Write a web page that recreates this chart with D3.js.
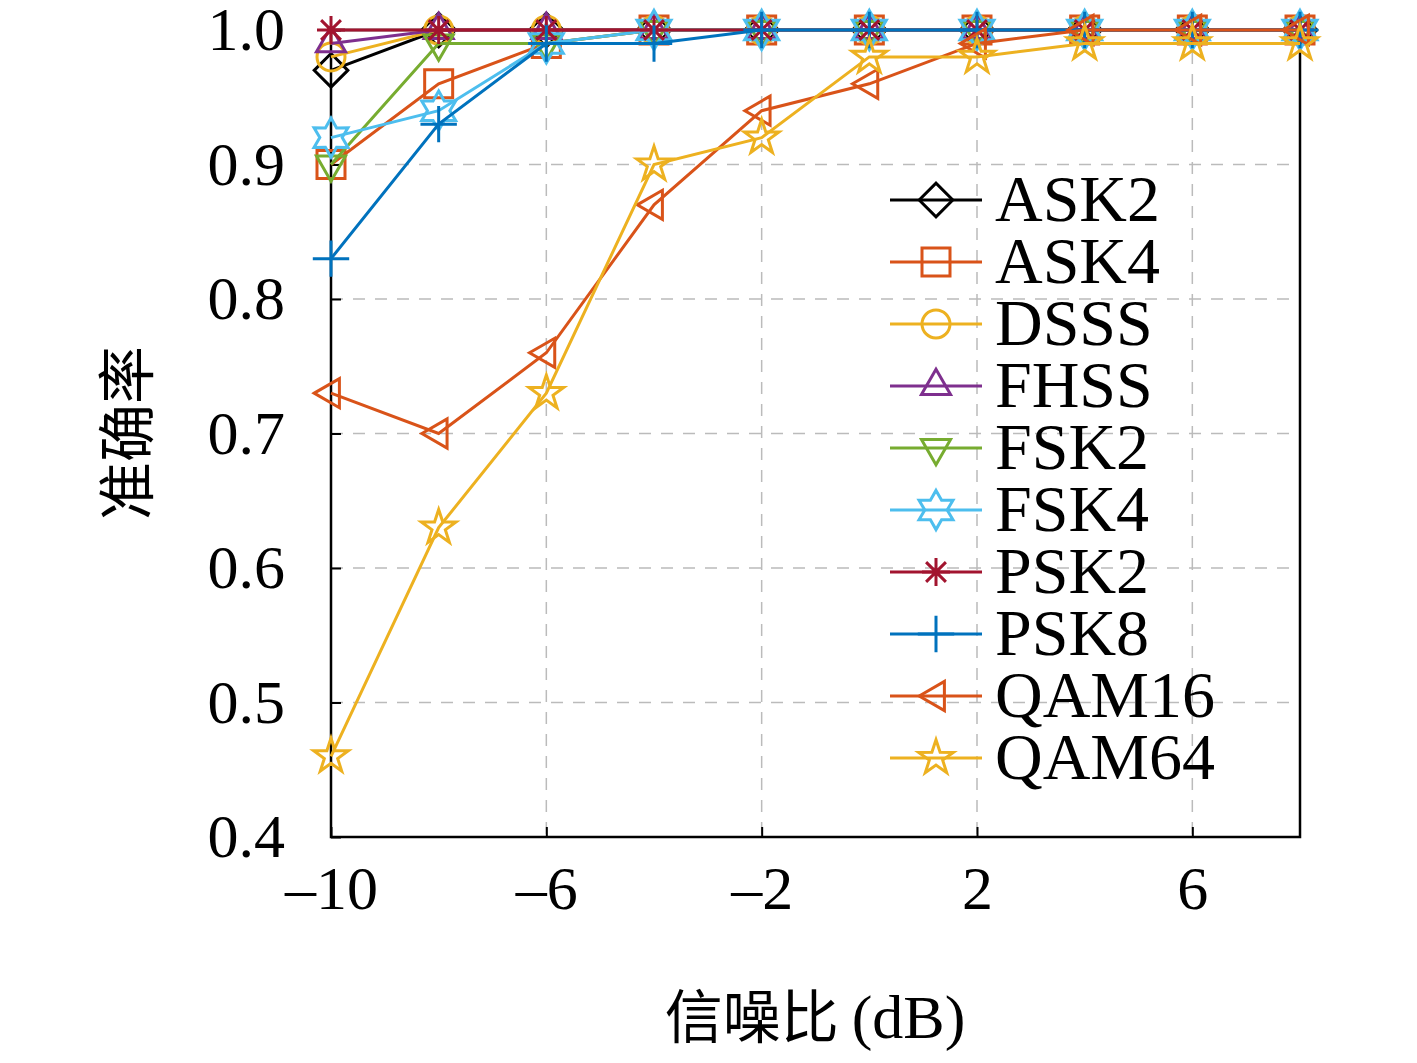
<!DOCTYPE html>
<html><head><meta charset="utf-8">
<script src="https://cdn.jsdelivr.net/npm/d3@7"></script>
<style>body{margin:0;background:#fff}</style>
</head><body>
<script>
// SNR values (dB) and accuracy per modulation
var snr = [-10, -8, -6, -4, -2, 0, 2, 4, 6, 8];
var names = ["ASK2","ASK4","DSSS","FHSS","FSK2","FSK4","PSK2","PSK8","QAM16","QAM64"];
var ask2  = [0.97,1,1,1,1,1,1,1,1,1];
var ask4  = [0.90,0.96,0.99,1,1,1,1,1,1,1];
var dsss  = [0.98,1,1,1,1,1,1,1,1,1];
var fhss  = [0.99,1,1,1,1,1,1,1,1,1];
var fsk2  = [0.90,0.99,0.99,1,1,1,1,1,1,1];
var fsk4  = [0.92,0.94,0.99,1,1,1,1,1,1,1];
var psk2  = [1,1,1,1,1,1,1,1,1,1];
var psk8  = [0.83,0.93,0.99,0.99,1,1,1,1,1,1];
var qam16 = [0.73,0.70,0.76,0.87,0.94,0.96,0.99,1,1,1];
var qam64 = [0.46,0.63,0.73,0.90,0.92,0.98,0.98,0.99,0.99,0.99];
var xTicks = [-10,-6,-2,2,6];
var yTicks = [0.4,0.5,0.6,0.7,0.8,0.9,1.0];

var series = [ask2,ask4,dsss,fhss,fsk2,fsk4,psk2,psk8,qam16,qam64];
var colors = ["#000000","#D95319","#EDB120","#7E2F8E","#77AC30","#4DBEEE","#A2142F","#0072BD","#D95319","#EDB120"];
var markers = ["diamond","square","circle","tup","tdown","hexagram","asterisk","plus","tleft","star"];

var w = 1417, h = 1063;
var svg = d3.select("body").append("svg").attr("width", w).attr("height", h);
var x = d3.scaleLinear().domain([-10, 8]).range([331, 1300]);
var y = d3.scaleLinear().domain([0.4, 1.0]).range([837, 30]);
var serif = "'Liberation Serif','DejaVu Serif',serif";

// grid
svg.selectAll(".gx").data(xTicks.slice(1)).enter().append("line")
  .attr("x1", d => x(d)).attr("x2", d => x(d)).attr("y1", 30).attr("y2", 837)
  .attr("stroke", "#bbb").attr("stroke-width", 1.5).attr("stroke-dasharray", "12,10");
svg.selectAll(".gy").data(yTicks.slice(1, -1)).enter().append("line")
  .attr("x1", 331).attr("x2", 1300).attr("y1", d => y(d)).attr("y2", d => y(d))
  .attr("stroke", "#bbb").attr("stroke-width", 1.5).attr("stroke-dasharray", "12,10");

// axes
var xAxis = svg.append("g").attr("transform", "translate(0,837)")
  .call(d3.axisBottom(x).tickValues(xTicks).tickSize(-10).tickPadding(28).tickFormat(d => d < 0 ? "\u2013" + (-d) : d));
var yAxis = svg.append("g").attr("transform", "translate(331,0)")
  .call(d3.axisLeft(y).tickValues(yTicks).tickSize(-10).tickPadding(46).tickFormat(d3.format(".1f")));
[xAxis, yAxis].forEach(function(a){
  a.select(".domain").remove();
  a.selectAll("line").attr("stroke", "#000").attr("stroke-width", 2);
  a.selectAll("text").attr("font-family", serif).attr("font-size", 62).attr("fill", "#000");
});
svg.append("rect").attr("x", 331).attr("y", 30).attr("width", 969).attr("height", 807)
  .attr("fill", "none").attr("stroke", "#000").attr("stroke-width", 2.5);

var xl = svg.append("text").attr("x", 815).attr("y", 1038).attr("text-anchor", "middle").attr("font-size", 58);
xl.append("tspan").attr("font-family", "'Noto Sans CJK SC'").text("信噪比 ");
xl.append("tspan").attr("font-family", serif).attr("font-size", 62).text("(dB)");
svg.append("text").attr("transform", "translate(148,433) rotate(-90)").attr("text-anchor", "middle")
  .attr("font-family", "'Noto Sans CJK SC'").attr("font-size", 58).text("准确率");

function markerPath(type, r) {
  var p = [];
  function poly(n, rad, off, inner) {
    var pts = [];
    for (var i = 0; i < n * (inner ? 2 : 1); i++) {
      var a = off + i * Math.PI * 2 / (n * (inner ? 2 : 1));
      var rr = inner && i % 2 ? inner : rad;
      pts.push([rr * Math.cos(a), rr * Math.sin(a)]);
    }
    return "M" + pts.map(q => q[0].toFixed(2) + "," + q[1].toFixed(2)).join("L") + "Z";
  }
  switch (type) {
    case "diamond": return poly(4, r * 1.2, 0);
    case "square": return "M" + (-r) + "," + (-r) + "h" + 2 * r + "v" + 2 * r + "h" + (-2 * r) + "Z";
    case "circle": return "M" + (-r) + ",0a" + r + "," + r + " 0 1,0 " + 2 * r + ",0a" + r + "," + r + " 0 1,0 " + (-2 * r) + ",0";
    case "tup": return poly(3, r * 1.2, -Math.PI / 2);
    case "tdown": return poly(3, r * 1.2, Math.PI / 2);
    case "tleft": return poly(3, r * 1.2, Math.PI);
    case "hexagram": return poly(6, r * 1.4, -Math.PI / 2, r * 0.8);
    case "star": return poly(5, r * 1.3, -Math.PI / 2, r * 0.5);
    case "plus": return "M" + (-r * 1.3) + ",0H" + r * 1.3 + "M0," + (-r * 1.3) + "V" + r * 1.3;
    case "asterisk":
      for (var i = 0; i < 4; i++) { var a = i * Math.PI / 4; p.push("M" + (-r * Math.cos(a)).toFixed(2) + "," + (-r * Math.sin(a)).toFixed(2) + "L" + (r * Math.cos(a)).toFixed(2) + "," + (r * Math.sin(a)).toFixed(2)); }
      return p.join("");
  }
}

var line = d3.line().x((d, i) => x(snr[i])).y(d => y(d));
series.forEach(function(s, k) {
  var g = svg.append("g");
  g.append("path").attr("d", line(s)).attr("fill", "none").attr("stroke", colors[k]).attr("stroke-width", 3);
  g.selectAll("path.m").data(s).enter().append("path").attr("class", "m")
    .attr("transform", (d, i) => "translate(" + x(snr[i]) + "," + y(d) + ")")
    .attr("d", markerPath(markers[k], 14)).attr("fill", "none")
    .attr("stroke", colors[k]).attr("stroke-width", 3);
});

// legend
var lg = svg.append("g");
names.forEach(function(n, k) {
  var yy = 200 + k * 62;
  lg.append("line").attr("x1", 890).attr("x2", 982).attr("y1", yy).attr("y2", yy)
    .attr("stroke", colors[k]).attr("stroke-width", 3);
  lg.append("path").attr("transform", "translate(936," + yy + ")").attr("d", markerPath(markers[k], 14))
    .attr("fill", "none").attr("stroke", colors[k]).attr("stroke-width", 3);
  lg.append("text").attr("x", 995).attr("y", yy + 21).attr("font-family", serif).attr("font-size", 66).text(n);
});
</script>
</body></html>
